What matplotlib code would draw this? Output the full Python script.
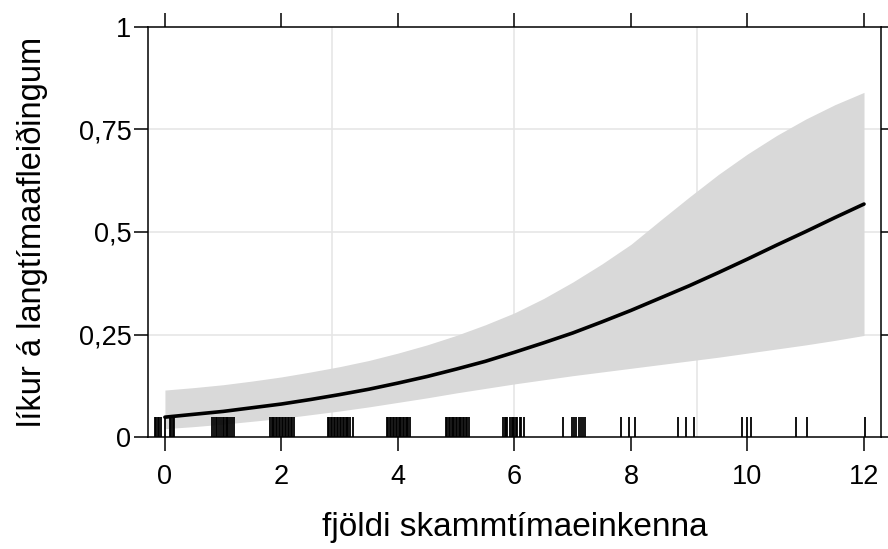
import numpy as np
import matplotlib
matplotlib.use("Agg")
import matplotlib.pyplot as plt

plt.rcParams['font.family'] = ['Liberation Sans', 'DejaVu Sans']

# effect curve (x = number of short-term symptoms)
x_fit = [0, 0.5, 1, 1.5, 2, 2.5, 3, 3.5, 4, 4.5, 5, 5.5, 6, 6.5, 7, 7.5, 8,
         8.5, 9, 9.5, 10, 10.5, 11, 11.5, 12]
fit = [0.049, 0.056, 0.063, 0.072, 0.081, 0.092, 0.104, 0.117, 0.132, 0.148,
       0.166, 0.185, 0.207, 0.230, 0.254, 0.281, 0.309, 0.339, 0.369, 0.401,
       0.434, 0.468, 0.501, 0.535, 0.568]

# confidence band, same x values
upper = [0.115, 0.121, 0.128, 0.137, 0.147, 0.159, 0.172, 0.187, 0.205, 0.225,
         0.248, 0.274, 0.303, 0.338, 0.378, 0.422, 0.47, 0.528, 0.585, 0.64,
         0.69, 0.735, 0.775, 0.81, 0.84]
lower = [0.021, 0.026, 0.032, 0.039, 0.046, 0.055, 0.064, 0.074, 0.085, 0.096,
         0.108, 0.119, 0.130, 0.140, 0.150, 0.159, 0.168, 0.177, 0.186, 0.195,
         0.205, 0.215, 0.225, 0.236, 0.248]

# jittered observations shown as rug
rug = [-0.17, -0.15, -0.12, -0.10, -0.07, 0.0, 0.09, 0.11, 0.14, 0.15,
       0.81, 0.84, 0.87, 0.90, 0.93, 0.96, 0.99, 1.01, 1.04, 1.06, 1.09, 1.12, 1.15, 1.18,
       1.81, 1.83, 1.86, 1.88, 1.91, 1.93, 1.96, 1.98, 2.01, 2.03, 2.06, 2.08, 2.11,
       2.13, 2.16, 2.18, 2.21,
       2.80, 2.82, 2.85, 2.87, 2.90, 2.92, 2.95, 2.97, 3.00, 3.02, 3.05, 3.07,
       3.10, 3.12, 3.15, 3.18, 3.22,
       3.81, 3.83, 3.86, 3.88, 3.91, 3.93, 3.96, 3.98, 4.01, 4.03, 4.06, 4.08,
       4.11, 4.13, 4.16, 4.18, 4.21,
       4.82, 4.84, 4.87, 4.89, 4.92, 4.94, 4.97, 4.99, 5.02, 5.04, 5.07, 5.09,
       5.12, 5.14, 5.17, 5.19, 5.22,
       5.81, 5.83, 5.86, 5.88, 5.92, 5.95, 5.97, 6.00, 6.02, 6.05, 6.09, 6.12, 6.16,
       6.83, 6.98, 7.02, 7.06, 7.10, 7.14, 7.18, 7.21,
       7.83, 7.96, 8.07, 8.81, 8.94, 9.08, 9.90, 10.00, 10.06, 10.84, 11.03, 12.02]

x_ticks = [0, 2, 4, 6, 8, 10, 12]
y_ticks = [0, 0.25, 0.5, 0.75, 1]
y_labels = ['0', '0,25', '0,5', '0,75', '1']
v_grid = [2.86, 6.0, 9.14]

fig = plt.figure(figsize=(8.88, 5.49), dpi=100)
ax = fig.add_axes([0.1667, 0.2035, 0.8253, 0.7479])

for g in v_grid:
    ax.axvline(g, color='#e6e6e6', lw=1.2, zorder=0)
for g in [0.25, 0.5, 0.75]:
    ax.axhline(g, color='#e6e6e6', lw=1.2, zorder=0)

ax.fill_between(x_fit, lower, upper, color='#d9d9d9', lw=0, zorder=1)
ax.plot(x_fit, fit, color='black', lw=2.6, zorder=3, solid_capstyle='round')
ax.vlines(rug, 0, 0.049, color='black', lw=1.3, zorder=4)

ax.set_xlim(-0.29, 12.29)
ax.set_ylim(0, 1)
ax.set_xticks(x_ticks)
ax.set_yticks(y_ticks)
ax.set_yticklabels(y_labels)
ax.tick_params(direction='out', length=10, width=1.1, labelsize=19.5,
               top=True, right=True, labeltop=False, labelright=False)
ax.tick_params(axis='x', pad=9)
ax.tick_params(axis='y', pad=2)
for s in ax.spines.values():
    s.set_linewidth(1.1)

ax.set_xlabel('fjöldi skammtímaeinkenna', fontsize=24, labelpad=16)
ax.set_ylabel('líkur á langtímaafleiðingum', fontsize=23.5, labelpad=22)

fig.savefig('out.png', dpi=100)
